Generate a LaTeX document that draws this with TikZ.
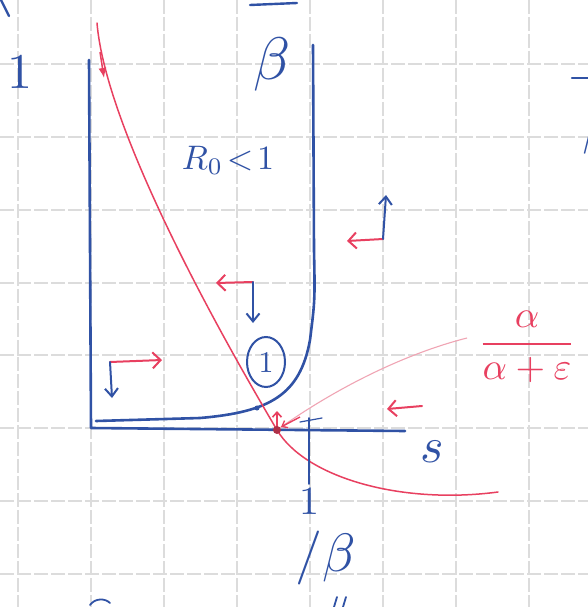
\documentclass[tikz,border=0pt]{standalone}
\usetikzlibrary{arrows.meta}
\definecolor{penblue}{RGB}{48,82,165}
\definecolor{penred}{RGB}{232,64,96}
\definecolor{penpink}{RGB}{240,165,180}
\definecolor{gridgray}{RGB}{220,220,220}
\begin{document}
\begin{tikzpicture}[x=1pt,y=-1pt,
  gridline/.style={gridgray, line width=1.3pt, dash pattern=on 14pt off 3pt},
  blueline/.style={penblue, line width=2.6pt, line cap=round, line join=round},
  thinblue/.style={penblue, line width=1.8pt, line cap=round},
  redcurve/.style={penred, line width=1.5pt, line cap=round},
  redarrow/.style={penred, line width=2pt, line cap=round, -{Straight Barb[length=8pt,width=16pt]}},
  bluearrow/.style={penblue, line width=2pt, line cap=round, -{Straight Barb[length=8pt,width=13pt]}},
  bluetext/.style={text=penblue, inner sep=0pt},
  redtext/.style={text=penred, inner sep=0pt}]
\useasboundingbox (0,0) rectangle (588,607);
\clip (0,0) rectangle (588,607);
\fill[white] (0,0) rectangle (588,607);
% grid
\foreach \gx in {18,91,164,237,310,383,456,529} \draw[gridline] (\gx,0) -- (\gx,607);
\foreach \gy in {64,137,210,283,355,428,501,574} \draw[gridline] (0,\gy) -- (588,\gy);
% axes
\coordinate (ytop) at (89,60);
\coordinate (origin) at (91,428);
\coordinate (xend) at (405,431);
\draw[blueline] (ytop) -- (origin) -- (xend);
% nullcline
\coordinate (nc0) at (96,421);
\coordinate (ncT) at (313,45);
\draw[blueline] (nc0) -- (200,418) .. controls (270,412) and (300,395) .. (310,340)
   .. controls (315,300) .. (314,250) -- (ncT);
\fill[penblue] (257,408) circle (2.5);
% red curve
\coordinate (rs) at (97,23);
\coordinate (eq) at (277,430);
\coordinate (re) at (498,492);
\draw[redcurve] (rs) .. controls (105,120) and (200,300) .. (eq)
   .. controls (305,477) and (400,505) .. (re);
\coordinate (ra0) at (100,52);
\coordinate (ra1) at (104,78);
\draw[penred, line width=1.5pt, -{Latex[length=10pt,width=8pt]}] (ra0) -- (ra1);
% thin pink curve
\coordinate (pinkend) at (467,338);
\draw[penpink, line width=1.1pt] (eq) .. controls (330,392) and (400,355) .. (pinkend);
% equilibrium
\coordinate (equp) at (277,411);
\coordinate (eqr) at (300,417);
\draw[penred, line width=1.6pt, -{Straight Barb[length=5pt,width=9pt]}] (eq) -- (equp);
\draw[penred, line width=1.4pt, -{Straight Barb[length=5pt,width=8pt]}] (eqr) -- (281,427);
\fill[penred!75!black] (eq) circle (4);
% tick at 1/beta
\coordinate (tk0) at (309,418);
\coordinate (tk1) at (309,484);
\draw[thinblue] (tk0) -- (tk1);
\draw[thinblue, line width=1.2pt] (300,422) -- (322,418);
% direction arrows
\coordinate (a1) at (383,239);
\draw[redarrow] (a1) -- (347,241);
\draw[bluearrow] (a1) -- (386,195);
\coordinate (a2) at (253,282);
\draw[redarrow] (a2) -- (216,283);
\draw[bluearrow] (a2) -- (253,323);
\coordinate (a3) at (110,362);
\draw[redarrow] (a3) -- (162,360);
\draw[bluearrow] (a3) -- (112,398);
\coordinate (a4) at (422,406);
\draw[redarrow] (a4) -- (387,409);
% circled 1
\draw[penblue, line width=2pt] (266,362) ellipse (19 and 25);
\node[bluetext, scale=3] (one) at (266,363) {$1$};
% labels
\node[bluetext, scale=3.4] (R0) at (228,160) {$R_0\!<\!1$};
\node[bluetext, scale=5] (s) at (432,452) {$s$};
\node[bluetext, scale=4] (inv1) at (309,502) {$1$};
\node[bluetext, scale=5.4] (invb) at (326,558) {$/\beta$};
\node[bluetext, scale=6] (btop) at (272,65) {$\beta$};
\coordinate (bar0) at (250,5);
\coordinate (bar1) at (297,3);
\draw[thinblue, line width=2.4pt] (bar0) -- (bar1);
\node[bluetext, scale=5] (lone) at (20,72) {$1$};
\coordinate (tl0) at (1,0);
\coordinate (tl1) at (9,16);
\draw[thinblue, line width=2.4pt] (tl0) -- (tl1);
\coordinate (rb0) at (572,78);
\coordinate (rb1) at (595,78);
\draw[thinblue, line width=2.4pt] (rb0) -- (rb1);
\node[bluetext, scale=6, anchor=west] (bright) at (581,127) {$\beta$};
\node[redtext, scale=3.8] (frac) at (527,347) {$\displaystyle\frac{\alpha}{\alpha+\varepsilon}$};
% cut-off fragments at bottom
\draw[thinblue] (90,605) .. controls (95,598) and (105,598) .. (110,603);
\draw[thinblue] (334,607) -- (337,597);
\draw[thinblue] (343,607) -- (346,597);
\end{tikzpicture}
\end{document}
